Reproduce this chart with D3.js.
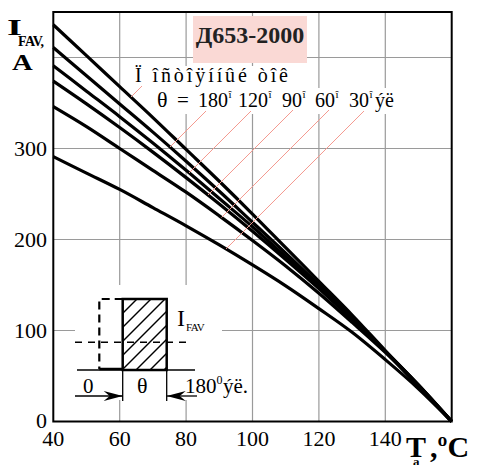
<!DOCTYPE html>
<html><head><meta charset="utf-8">
<script src="https://cdn.jsdelivr.net/npm/d3@7"></script>
<style>body{margin:0;background:#fff}svg{display:block}text{font-family:"Liberation Serif","Times New Roman",serif}</style>
</head><body><svg id="c" width="481" height="465" font-family="Liberation Serif, Times New Roman, serif"></svg>
<script>
// ---- data ----
const temps = [40,50,60,70,80,90,100,110,120,130,140,150,160];
const sDC  = [436,402,368,334,299,264,228,191,154,117,78,40,0];
const s180 = [411,380,349,318,286,253,219,185,150,114,77,39,0];
const s120 = [391,363,335,306,276,245,214,181,148,113,77,39,0];
const s90  = [374,349,323,296,268,239,209,178,146,112,77,40,0];
const s60  = [346,324,300,276,252,226,199,171,141,109,76,40,0];
const s30  = [291,273,255,235,215,194,172,149,124,98,68,36,0];
const seriesList = [sDC, s180, s120, s90, s60, s30];
const xTicks = [40,60,80,100,120,140];
const yTicks = [0,100,200,300];
const xGrid = [60,80,100,120,140];
const yGrid = [100,200,300,400];
const thetaLabels = ["180","120","90","60","30"];
const title = "Д653-2000";
const dcLabel = "Ï îñòîÿííûé òîê";

// ---- layout ----
const svg = d3.select("#c");
const x = d3.scaleLinear().domain([40,160]).range([53.3,451.7]);
const y = d3.scaleLinear().domain([0,450]).range([421.5,12]);
const FONT = "Liberation Serif, Times New Roman, serif";
function T(sel){ return sel.attr("font-family",FONT); }

// grid
svg.append("g").selectAll("line").data(xGrid).join("line")
  .attr("x1",d=>x(d)).attr("x2",d=>x(d)).attr("y1",y(450)).attr("y2",y(0))
  .attr("stroke","#9a9a9a").attr("stroke-width",1.2);
svg.append("g").selectAll("line").data(yGrid).join("line")
  .attr("y1",d=>y(d)).attr("y2",d=>y(d)).attr("x1",x(40)).attr("x2",x(160))
  .attr("stroke","#9a9a9a").attr("stroke-width",1.2);

// title box
svg.append("rect").attr("x",193).attr("y",16).attr("width",114).attr("height",47).attr("fill","#fad9d5");
T(svg.append("text")).attr("x",250).attr("y",43).attr("text-anchor","middle")
  .attr("font-weight","bold").attr("font-size",24).attr("fill","#222").text(title);

// legend backgrounds
svg.append("rect").attr("x",133).attr("y",66).attr("width",160).attr("height",22).attr("fill","#fff");
svg.append("rect").attr("x",155).attr("y",88).attr("width",242).attr("height",26).attr("fill","#fff");

// inset background
svg.append("rect").attr("x",75).attr("y",285).attr("width",147).attr("height",115).attr("fill","#fff");

// curves
const line = d3.line().x((d,i)=>x(temps[i])).y(d=>y(d)).curve(d3.curveMonotoneX);
const paths = seriesList.map(s => svg.append("path").datum(s).attr("d",line)
  .attr("fill","none").attr("stroke","#000").attr("stroke-width",3.2).attr("stroke-linejoin","round"));

// leader lines (45 degrees from label to curve)
const leaderStarts = [[142,86],[206,111],[251,111],[293,110],[329,110],[364,111]];
leaderStarts.forEach((p,i)=>{
  const node = paths[i].node();
  const L = node.getTotalLength();
  const c = p[0]+p[1];
  let lo=0, hi=L;
  for(let k=0;k<40;k++){
    const m=(lo+hi)/2; const q=node.getPointAtLength(m);
    if(q.x+q.y < c) lo=m; else hi=m;
  }
  const q=node.getPointAtLength((lo+hi)/2);
  svg.append("line").attr("x1",p[0]).attr("y1",p[1]).attr("x2",q.x).attr("y2",q.y)
    .attr("stroke","#f49a90").attr("stroke-width",1);
});

// legend text
T(svg.append("text")).attr("x",135).attr("y",82).attr("font-size",20)
  .attr("textLength",153).attr("lengthAdjust","spacing").text(dcLabel);
T(svg.append("text")).attr("x",157).attr("y",107).attr("font-size",22).text("θ");
T(svg.append("text")).attr("x",177).attr("y",107).attr("font-size",21).text("=");
const thetaX = [198,238,282,315,349];
thetaLabels.forEach((t,i)=>{
  const tx = T(svg.append("text")).attr("x",thetaX[i]).attr("y",107).attr("font-size",20).text(t);
  const w = tx.node().getComputedTextLength();
  T(svg.append("text")).attr("x",thetaX[i]+w+0.5).attr("y",98).attr("font-size",11).text("î");
  if(i===thetaLabels.length-1){
    T(svg.append("text")).attr("x",thetaX[i]+w+6).attr("y",107).attr("font-size",20).text("ýë");
  }
});

// inset
const g = svg.append("g");
const rx0=122.7, rx1=166.7, ry0=299, ry1=370;
g.append("line").attr("x1",77).attr("x2",195).attr("y1",370).attr("y2",370).attr("stroke","#000").attr("stroke-width",1.3);
g.append("line").attr("x1",99.3).attr("x2",rx0).attr("y1",369).attr("y2",369).attr("stroke","#000").attr("stroke-width",2.5);
g.append("path").attr("d",`M${rx0},${ry0}H99.3V369`).attr("fill","none").attr("stroke","#000")
  .attr("stroke-width",2.2).attr("stroke-dasharray","8,5");
g.append("clipPath").attr("id","hc").append("rect").attr("x",rx0).attr("y",ry0).attr("width",rx1-rx0).attr("height",ry1-ry0);
const hatch = g.append("g").attr("clip-path","url(#hc)");
for(let c=436;c<540;c+=14){
  hatch.append("line").attr("x1",c-ry1).attr("y1",ry1).attr("x2",c-ry0+10).attr("y2",ry0-10)
    .attr("stroke","#000").attr("stroke-width",1.4);
}
g.append("rect").attr("x",rx0).attr("y",ry0).attr("width",rx1-rx0).attr("height",ry1-ry0)
  .attr("fill","none").attr("stroke","#000").attr("stroke-width",2.5);
g.append("line").attr("x1",75).attr("x2",190).attr("y1",342.3).attr("y2",342.3)
  .attr("stroke","#000").attr("stroke-width",1.4).attr("stroke-dasharray","7,6");
[rx0,rx1].forEach(xx=>g.append("line").attr("x1",xx).attr("x2",xx).attr("y1",370).attr("y2",401).attr("stroke","#000").attr("stroke-width",1.3));
g.append("line").attr("x1",75).attr("x2",rx0).attr("y1",396).attr("y2",396).attr("stroke","#000").attr("stroke-width",1.3);
g.append("line").attr("x1",rx1).attr("x2",197).attr("y1",396).attr("y2",396).attr("stroke","#000").attr("stroke-width",1.3);
g.append("path").attr("d",`M${rx0},396L${rx0-19},391L${rx0-13},396L${rx0-19},401Z`).attr("fill","#000");
g.append("path").attr("d",`M${rx1},396L${rx1+19},391L${rx1+13},396L${rx1+19},401Z`).attr("fill","#000");
T(g.append("text")).attr("x",177).attr("y",326).attr("font-size",24).text("I");
T(g.append("text")).attr("x",186).attr("y",331).attr("font-size",11).attr("letter-spacing",-0.5).text("FAV");
T(g.append("text")).attr("x",83).attr("y",393).attr("font-size",21).text("0");
T(g.append("text")).attr("x",137).attr("y",393).attr("font-size",22).text("θ");
T(g.append("text")).attr("x",185).attr("y",393).attr("font-size",21).text("180");
T(g.append("text")).attr("x",216.5).attr("y",384).attr("font-size",12).text("0");
T(g.append("text")).attr("x",223).attr("y",393).attr("font-size",21).text("ýë.");

// frame
svg.append("rect").attr("x",x(40)).attr("y",y(450)).attr("width",x(160)-x(40)).attr("height",y(0)-y(450))
  .attr("fill","none").attr("stroke","#000").attr("stroke-width",2);

// tick labels
T(svg.append("g")).selectAll("text").data(xTicks).join("text")
  .attr("x",d=>x(d)).attr("y",445.5).attr("text-anchor","middle").attr("font-size",22).text(d=>d);
T(svg.append("g")).selectAll("text").data(yTicks).join("text")
  .attr("x",47).attr("y",d=>y(d)).attr("dy",d=>d===0?"0.28em":"0.35em").attr("text-anchor","end").attr("font-size",22).text(d=>d);

// axis titles
T(svg.append("text")).attr("transform","translate(7,35) scale(1.6,1)").attr("font-weight","bold").attr("font-size",24).text("I");
T(svg.append("text")).attr("x",18).attr("y",46).attr("font-weight","bold").attr("font-size",14).attr("letter-spacing",-0.5).text("FAV,");
T(svg.append("text")).attr("transform","translate(12,70) scale(1.25,1)").attr("font-weight","bold").attr("font-size",23).text("A");
T(svg.append("text")).attr("x",406).attr("y",457).attr("font-weight","bold").attr("font-size",30).text("T");
T(svg.append("text")).attr("x",413).attr("y",466).attr("font-weight","bold").attr("font-size",13).text("a");
T(svg.append("text")).attr("x",430).attr("y",457).attr("font-weight","bold").attr("font-size",30).text(",ºC");
</script></body></html>
